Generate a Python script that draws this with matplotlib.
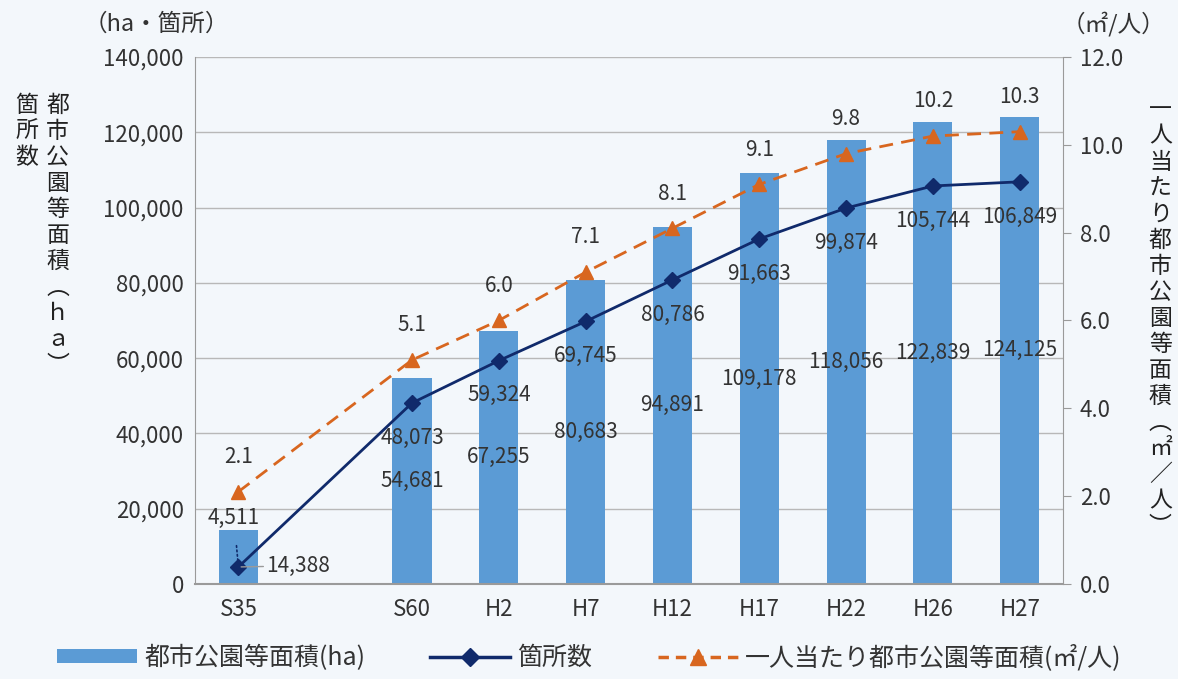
#!/usr/bin/env python3
import matplotlib
matplotlib.use('Agg')
import matplotlib.pyplot as plt
from matplotlib.lines import Line2D
from matplotlib.patches import Patch

plt.rcParams['font.family'] = ['Noto Sans CJK JP', 'DejaVu Sans']

years = ['S35', 'S60', 'H2', 'H7', 'H12', 'H17', 'H22', 'H26', 'H27']
area_ha = [14388, 54681, 67255, 80683, 94891, 109178, 118056, 122839, 124125]
count = [4511, 48073, 59324, 69745, 80786, 91663, 99874, 105744, 106849]
per_person = [2.1, 5.1, 6.0, 7.1, 8.1, 9.1, 9.8, 10.2, 10.3]

BG = '#f3f7fb'
BAR = '#5b9bd5'
NAVY = '#102a6b'
ORANGE = '#d8661f'
GRAY = '#9a9a9a'
TXT = '#333333'

# S35 then a gap of one slot before S60
x = [0] + [i + 1 for i in range(1, len(years))]

fig = plt.figure(figsize=(11.78, 6.79), dpi=100)
fig.patch.set_facecolor(BG)
ax = fig.add_axes([0.1655, 0.140, 0.737, 0.776])
ax.set_facecolor(BG)
ax2 = ax.twinx()

ax.bar(x, area_ha, width=0.45, color=BAR, zorder=2)
ax.plot(x, count, color=NAVY, lw=2, marker='D', ms=8, zorder=4)
ax2.plot(x, per_person, color=ORANGE, lw=2, ls=(0, (5, 3)), marker='^', ms=10, zorder=4)

ax.set_xlim(-0.5, 9.5)
ax.set_ylim(0, 140000)
ax2.set_ylim(0, 12)
ax.set_yticks(range(0, 140001, 20000))
ax.set_yticklabels([f'{v:,}' for v in range(0, 140001, 20000)])
ax2.set_yticks([i * 2 for i in range(7)])
ax2.set_yticklabels([f'{i * 2:.1f}' for i in range(7)])
ax.set_xticks(x)
ax.set_xticklabels(years)
ax.grid(axis='y', color='#b8b8b8', lw=1, zorder=0)
ax.set_axisbelow(True)

for a in (ax, ax2):
    for s in a.spines.values():
        s.set_visible(False)
    a.tick_params(labelsize=16, colors=TXT)
ax.spines['left'].set_visible(True)
ax.spines['left'].set_color(GRAY)
ax.spines['bottom'].set_visible(True)
ax.spines['bottom'].set_color(GRAY)
ax.spines['bottom'].set_linewidth(1.5)
ax2.spines['right'].set_visible(True)
ax2.spines['right'].set_color(GRAY)
ax.tick_params(axis='y', length=0, pad=8)
ax.tick_params(axis='x', length=0, pad=10)
ax2.tick_params(axis='y', length=6, color=GRAY, pad=6)

# data labels
for i in range(len(x)):
    if i == 0:
        ax.annotate(f'{area_ha[i]:,}', (x[i], count[i]), xytext=(0.32, count[i] + 300),
                    textcoords='data', fontsize=15, color=TXT, va='center', ha='left',
                    arrowprops=dict(arrowstyle='-', color=GRAY, lw=1, shrinkA=0, shrinkB=2), zorder=5)
        ax.annotate(f'{count[i]:,}', (x[i], count[i]), xytext=(-0.05, 17500),
                    textcoords='data', fontsize=15, color=TXT, va='center', ha='center',
                    arrowprops=dict(arrowstyle='-', color=NAVY, lw=1.2, ls=':', shrinkA=10, shrinkB=4), zorder=5)
    else:
        ax.text(x[i], area_ha[i] / 2, f'{area_ha[i]:,}', fontsize=15, color=TXT,
                ha='center', va='center', zorder=5)
        ax.annotate(f'{count[i]:,}', (x[i], count[i]), xytext=(0, -25),
                    textcoords='offset points', fontsize=15, color=TXT, ha='center', va='center', zorder=5)
    ax2.annotate(f'{per_person[i]:.1f}', (x[i], per_person[i]), xytext=(0, 25),
                 textcoords='offset points', fontsize=15, color=TXT, ha='center', va='center', zorder=5)

# unit labels
fig.text(0.133, 0.965, '（ha・箇所）', fontsize=17, color=TXT, ha='center', va='center')
fig.text(0.945, 0.965, '（㎡/人）', fontsize=17, color=TXT, ha='center', va='center')

# vertical axis titles
def vtext(xf, ytop, s, size):
    fig.text(xf, ytop, '\n'.join(s), fontsize=size, color='#222222', ha='center', va='top',
             linespacing=1.17)

vtext(0.023, 0.862, '箇所数', 16.5)
vtext(0.049, 0.862, '都市公園等面積︵ｈａ︶', 16.5)
vtext(0.985, 0.855, '一人当たり都市公園等面積︵㎡／人︶', 16.5)

handles = [
    Patch(facecolor=BAR, edgecolor='none'),
    Line2D([], [], color=NAVY, lw=2.5, marker='D', ms=9),
    Line2D([], [], color=ORANGE, lw=2.5, ls=(0, (3, 2)), marker='^', ms=11),
]
labels = ['都市公園等面積(ha)', '箇所数', '一人当たり都市公園等面積(㎡/人)']
fig.legend(handles, labels, loc='center', bbox_to_anchor=(0.5, 0.032), ncol=3,
           frameon=False, fontsize=18, handlelength=3.2, handleheight=0.45,
           columnspacing=2.6, handletextpad=0.3, labelcolor=TXT)

fig.savefig('out.png', dpi=100, facecolor=BG)
